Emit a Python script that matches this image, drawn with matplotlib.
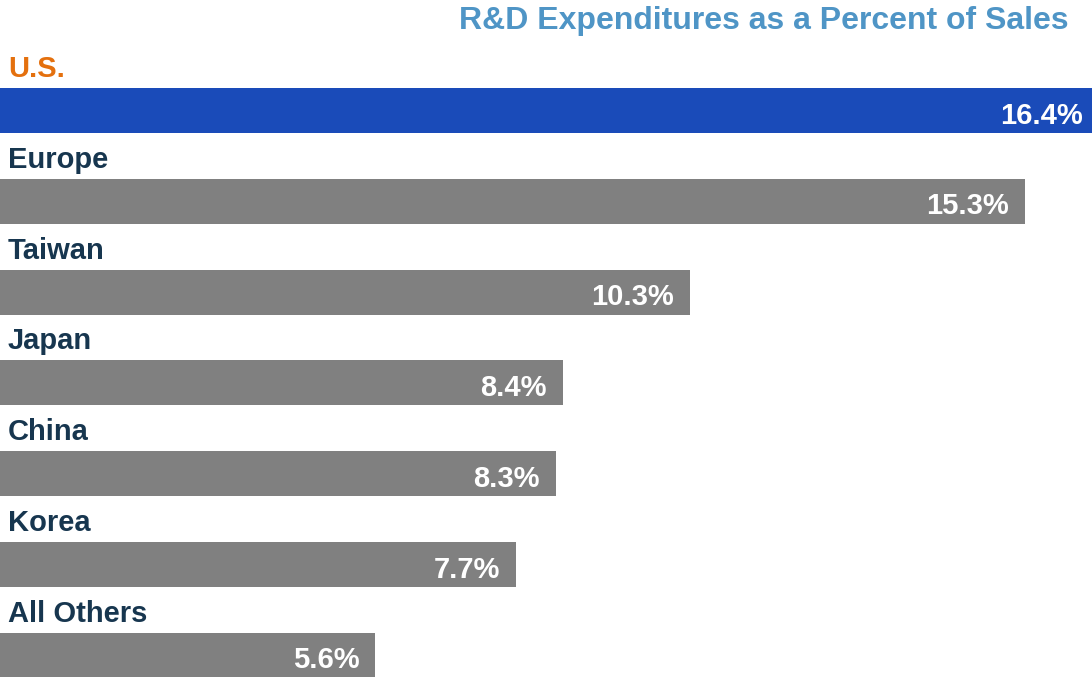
import matplotlib
matplotlib.use("Agg")
import matplotlib.pyplot as plt

categories = ["U.S.", "Europe", "Taiwan", "Japan", "China", "Korea", "All Others"]
values = [16.4, 15.3, 10.3, 8.4, 8.3, 7.7, 5.6]
value_labels = ["16.4%", "15.3%", "10.3%", "8.4%", "8.3%", "7.7%", "5.6%"]
title = "R&D Expenditures as a Percent of Sales"

bar_colors = ["#1A4BB9"] + ["#808080"] * 6
label_colors = ["#E4700E"] + ["#17364F"] * 6

plt.rcParams['font.family'] = ['Liberation Sans', 'DejaVu Sans']

W, H, DPI = 1092, 677, 100
fig = plt.figure(figsize=(W / DPI, H / DPI), dpi=DPI)
ax = fig.add_axes([0, 0, 1, 1])

px_per_unit_x = 67.0
period_px = 90.8
first_center_px = 110.5
bar_h_px = 45

ax.set_xlim(0, W / px_per_unit_x)
ax.set_ylim((H - first_center_px) / period_px, -first_center_px / period_px)
bh = bar_h_px / period_px

ys = list(range(len(categories)))
ax.barh(ys, values, height=bh, color=bar_colors, edgecolor="none")

for i, (cat, v, lab) in enumerate(zip(categories, values, value_labels)):
    ax.text(8 / px_per_unit_x, i - bh / 2 - 11 / period_px, cat,
            ha="left", va="baseline", fontsize=21, fontweight="bold",
            color=label_colors[i])
    ax.text(v - 16 / px_per_unit_x, i + 13 / period_px, lab,
            ha="right", va="baseline", fontsize=21, fontweight="bold",
            color="white")

fig.text(1069 / W, 1 - 29 / H, title, ha="right", va="baseline",
         fontsize=23, fontweight="bold", color="#4F95C6")

ax.axis("off")
fig.savefig("out.png", dpi=DPI, facecolor="white")
